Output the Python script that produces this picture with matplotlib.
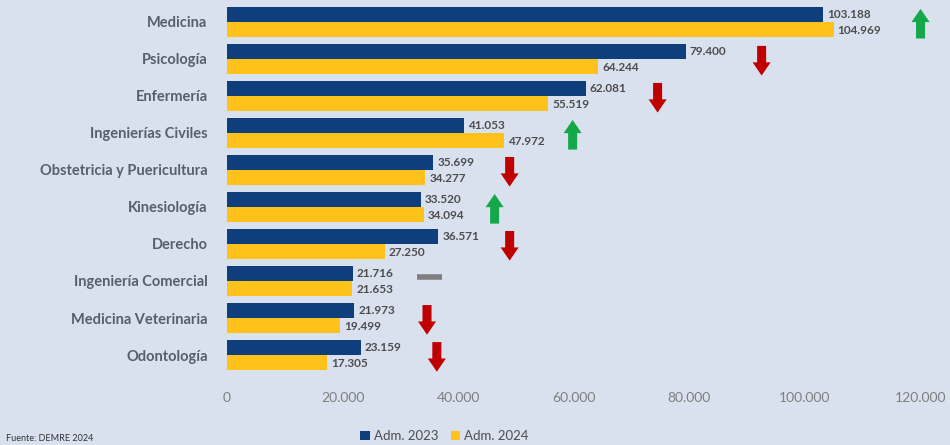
import matplotlib.pyplot as plt
import numpy as np

plt.rcParams['font.family'] = ['Lato', 'DejaVu Sans']

# data
carreras = ['Medicina', 'Psicología', 'Enfermería', 'Ingenierías Civiles',
            'Obstetricia y Puericultura', 'Kinesiología', 'Derecho',
            'Ingeniería Comercial', 'Medicina Veterinaria', 'Odontología']
adm_2023 = [103188, 79400, 62081, 41053, 35699, 33520, 36571, 21716, 21973, 23159]
adm_2024 = [104969, 64244, 55519, 47972, 34277, 34094, 27250, 21653, 19499, 17305]
# where the trend marks sit (x position in data units)
marca_x = [120000, 92500, 74500, 59800, 48900, 46300, 48900, 35000, 34600, 36300]
ticks = [0, 20000, 40000, 60000, 80000, 100000, 120000]

BG = '#D9E1EF'
AZUL = '#0E3E7C'
AMARILLO = '#FFC21A'
VERDE = '#14A84B'
ROJO = '#C00000'
GRIS = '#7F7F7F'


def fmt(v):
    return f'{v:,}'.replace(',', '.')


fig = plt.figure(figsize=(9.5, 4.45), dpi=100, facecolor=BG)
ax = fig.add_axes([0.239, 0.1506, 0.73, 0.8494], facecolor=BG)

y = np.arange(len(carreras))
h = 0.4
ax.barh(y - h / 2, adm_2023, height=h, color=AZUL, label='Adm. 2023')
ax.barh(y + h / 2, adm_2024, height=h, color=AMARILLO, label='Adm. 2024')

for i in range(len(carreras)):
    ax.text(adm_2023[i] + 700, y[i] - h / 2, fmt(adm_2023[i]), va='center', ha='left',
            fontsize=8.5, fontweight='bold', color='#4D4D4D')
    ax.text(adm_2024[i] + 700, y[i] + h / 2 + 0.04, fmt(adm_2024[i]), va='center', ha='left',
            fontsize=8.5, fontweight='bold', color='#4D4D4D')

    diff = (adm_2024[i] - adm_2023[i]) / adm_2023[i]
    xm = marca_x[i]
    yc = y[i] + 0.05
    if abs(diff) < 0.01:
        ax.plot([xm - 2200, xm + 2200], [yc - 0.15, yc - 0.15], color=GRIS, lw=4,
                solid_capstyle='butt')
    else:
        up = diff > 0
        tail, tip = (yc + 0.4, yc - 0.4) if up else (yc - 0.4, yc + 0.4)
        ax.annotate('', xy=(xm, tip), xytext=(xm, tail),
                    arrowprops=dict(arrowstyle='simple,head_width=1.3,head_length=0.95,tail_width=0.65',
                                    color=VERDE if up else ROJO, mutation_scale=10, lw=0,
                                    shrinkA=0, shrinkB=0))

ax.set_yticks(y)
ax.set_yticklabels(carreras, fontsize=10.5, fontweight='bold', color='#595E6B')
ax.set_ylim(9.62, -0.59)
ax.set_xlim(0, 120000)
ax.set_xticks(ticks)
ax.set_xticklabels([fmt(t) for t in ticks], fontsize=10, color='#7F7F7F')
ax.tick_params(length=0, axis='y', pad=14)
ax.tick_params(length=0, axis='x', pad=10)
for s in ax.spines.values():
    s.set_visible(False)

fig.legend(loc='lower center', bbox_to_anchor=(0.468, -0.02), ncol=2, frameon=False,
           fontsize=9.5, handlelength=0.7, handleheight=0.7, handletextpad=0.3,
           columnspacing=1.0, labelcolor='#4D4D4D')
fig.text(0.006, 0.01, 'Fuente: DEMRE 2024', fontsize=6.5, color='#333333')

fig.savefig('out.png', dpi=100, facecolor=BG)
